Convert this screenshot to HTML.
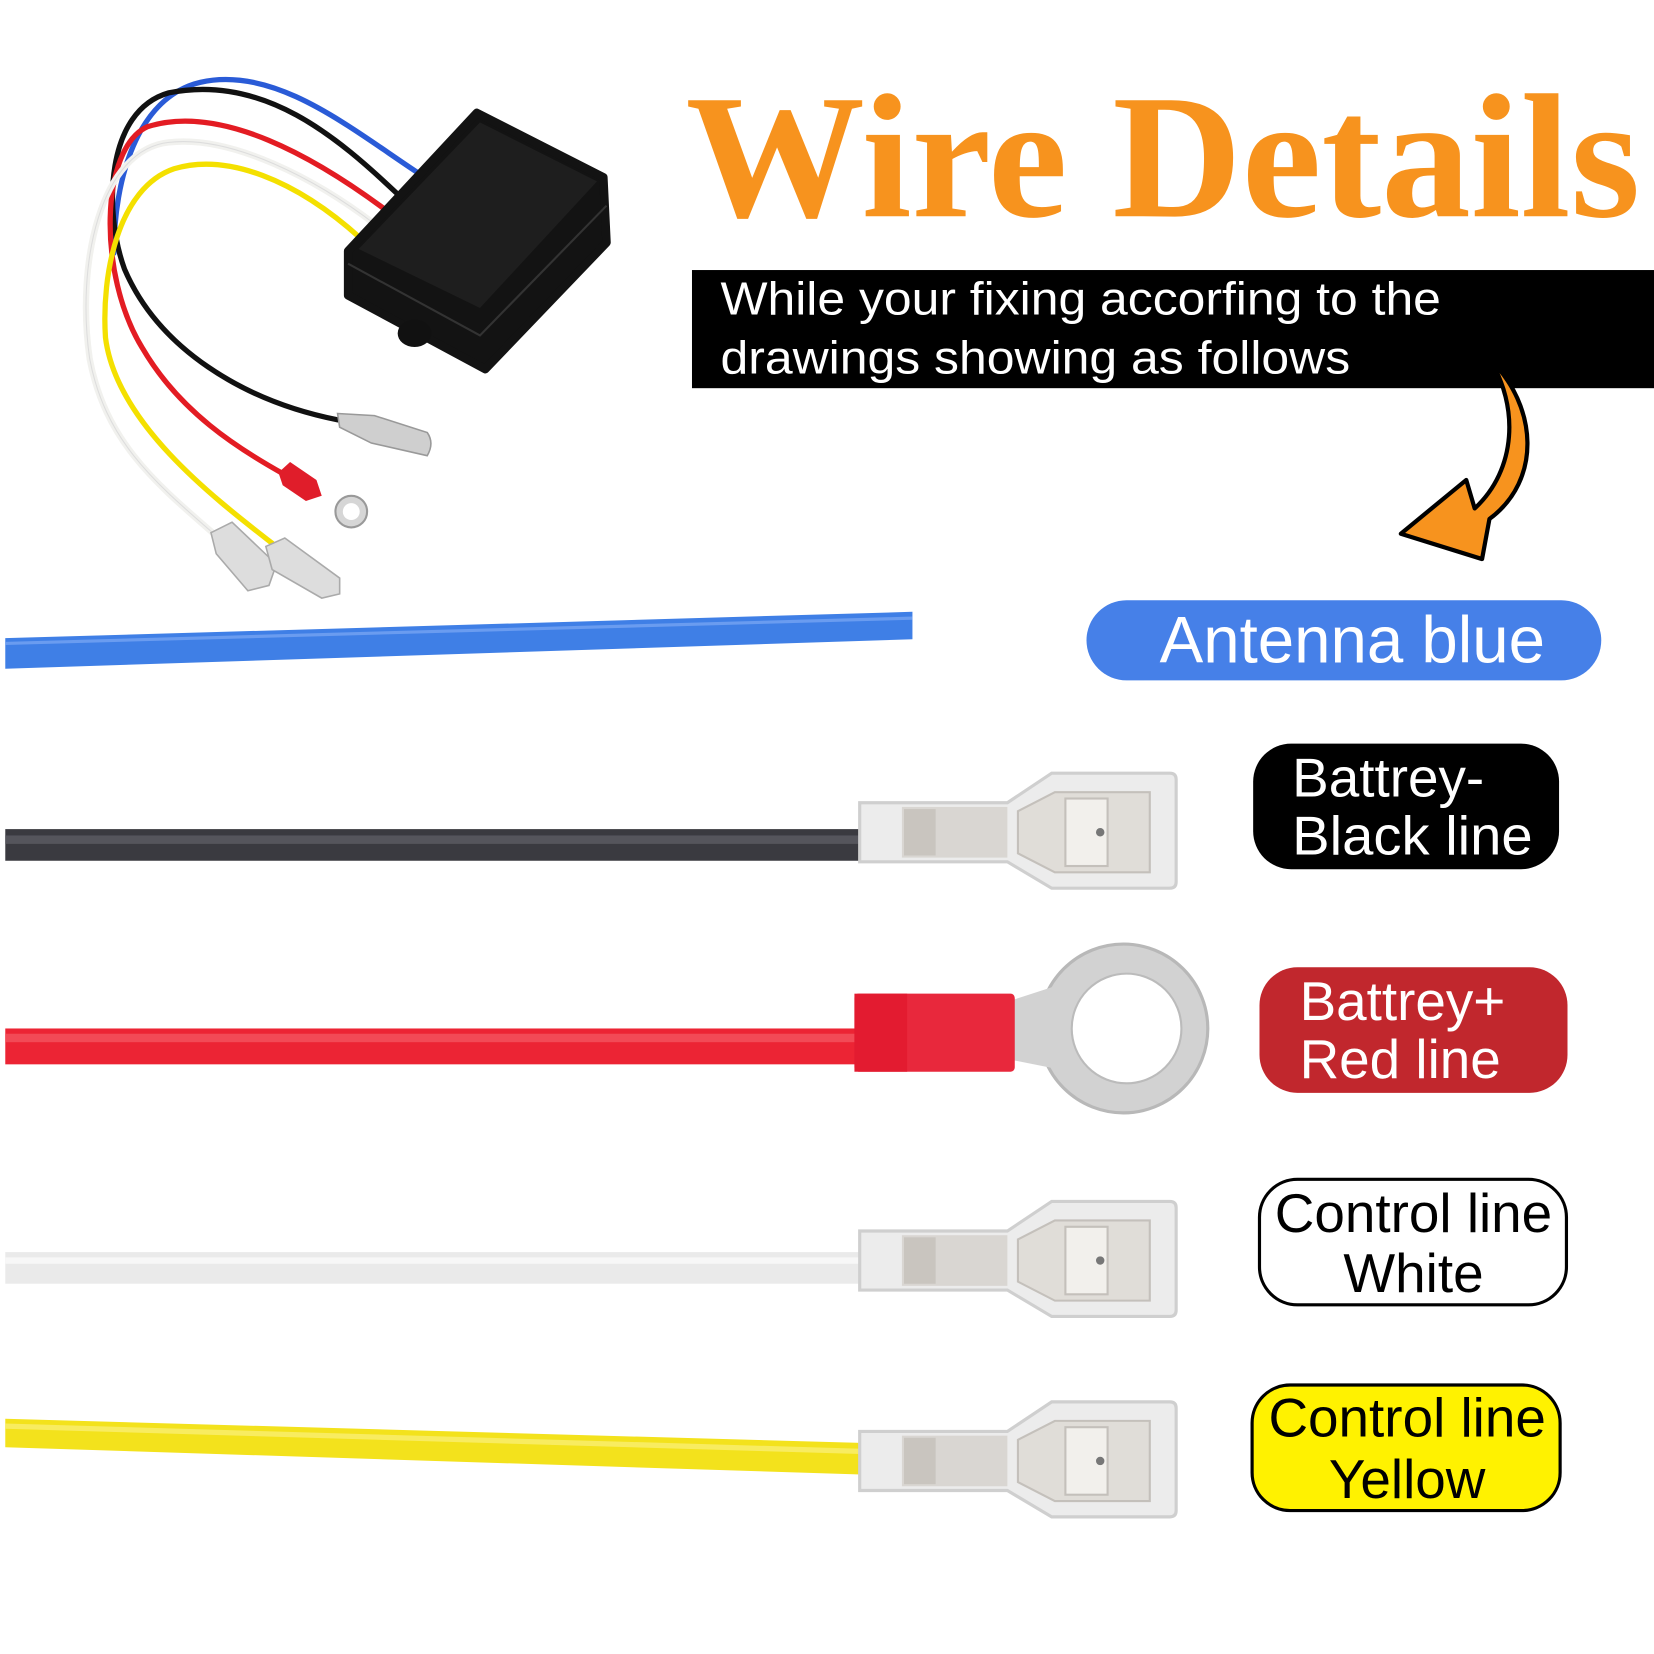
<!DOCTYPE html>
<html><head><meta charset="utf-8"><style>html,body{margin:0;padding:0;background:#fff}svg{display:block}</style></head>
<body>
<svg width="1654" height="1654" viewBox="0 0 1568 1568" xmlns="http://www.w3.org/2000/svg">
<defs>
<g id="spade">
  <path d="M0,-28 L140,-28 L182,-56 L294,-56 Q300,-56 300,-50 L300,47 Q300,53 294,53 L182,53 L140,28 L0,28 Z" fill="#ececec" stroke="#cfcfcf" stroke-width="3"/>
  <rect x="40" y="-24" width="100" height="48" fill="#d9d6d2"/>
  <rect x="42" y="-22" width="30" height="44" fill="#c9c5bf"/>
  <path d="M150,-20 L185,-38 L275,-38 L275,38 L185,38 L150,20 Z" fill="#e0ddd8" stroke="#c4c0bb" stroke-width="2"/>
  <rect x="195" y="-32" width="40" height="64" fill="#f2f0ec" stroke="#c4c0bb" stroke-width="2"/>
  <circle cx="228" cy="0" r="4" fill="#777"/>
</g>
</defs>

<g fill="none" stroke-linecap="round" stroke-width="5">
  <path d="M395,163 C330,120 260,62 190,78 C130,92 108,170 108,240" stroke="#2a5bd7"/>
  <path d="M378,185 C320,130 250,70 160,88 C100,105 98,200 118,255 C150,330 230,380 320,398" stroke="#111"/>
  <path d="M367,200 C300,150 210,98 140,120 C95,140 92,260 135,330 C170,390 225,425 270,450" stroke="#e31c23"/>
  <path d="M356,213 C300,170 220,128 160,135 C95,142 72,250 85,340 C100,420 150,460 205,508" stroke="#f1f1ee" stroke-width="6"/>
  <path d="M356,213 C300,170 220,128 160,135 C95,142 72,250 85,340 C100,420 150,460 205,508" stroke="#ddd" stroke-width="1"/>
  <path d="M342,226 C280,170 215,145 165,160 C112,178 96,260 100,320 C110,400 200,470 258,515" stroke="#f4e000"/>
</g>
<path d="M320,392 L355,394 L405,410 Q412,420 405,432 L352,420 L322,405 Z" fill="#cfcfcf" stroke="#999" stroke-width="1.5"/>
<path d="M264,448 L275,438 L300,455 L305,470 L290,475 L268,460 Z" fill="#e01d2a"/>
<circle cx="333" cy="485" r="15" fill="#d6d6d6" stroke="#999" stroke-width="2"/>
<circle cx="333" cy="485" r="8" fill="#fff"/>
<path d="M200,505 L220,495 L262,535 L255,555 L235,560 L205,525 Z" fill="#ddd" stroke="#aaa" stroke-width="1.5"/>
<path d="M252,518 L270,510 L322,548 L322,563 L305,567 L258,540 Z" fill="#ddd" stroke="#aaa" stroke-width="1.5"/>
<path d="M330,238 L452,107 L572,168 L575,230 L460,350 L330,280 Z" fill="#131313" stroke="#131313" stroke-width="8" stroke-linejoin="round"/>
<path d="M340,236 L455,116 L566,172 L455,292 Z" fill="#1e1e1e"/>
<path d="M330,250 L455,318 L575,195" fill="none" stroke="#333" stroke-width="2"/>
<ellipse cx="393" cy="316" rx="16" ry="13" fill="#111"/>

<text x="650" y="205" font-family="Liberation Serif, serif" font-weight="bold" font-size="168" fill="#F7931E" textLength="905" lengthAdjust="spacingAndGlyphs">Wire  Details</text>

<rect x="656" y="256" width="912" height="112" fill="#000"/>
<text x="683" y="298" font-family="Liberation Sans, sans-serif" font-size="44" fill="#fff" textLength="683" lengthAdjust="spacingAndGlyphs">While your fixing accorfing to the</text>
<text x="683" y="354" font-family="Liberation Sans, sans-serif" font-size="44" fill="#fff" textLength="597" lengthAdjust="spacingAndGlyphs">drawings showing as follows</text>

<path d="M1412,340 C1458,385 1462,455 1412,492 L1405,530 L1328,506 L1390,455 L1398,482 C1438,445 1440,385 1412,340 Z" fill="#F7931E" stroke="#000" stroke-width="4" stroke-linejoin="round"/>

<rect x="1030" y="569" width="488" height="76" rx="38" fill="#4680E8"/>
<text x="1282" y="628" text-anchor="middle" font-family="Liberation Sans, sans-serif" font-size="62" fill="#fff">Antenna blue</text>

<rect x="1188" y="705" width="290" height="119" rx="36" fill="#000"/>
<text x="1225" y="755" font-family="Liberation Sans, sans-serif" font-size="52" fill="#fff">Battrey-</text>
<text x="1225" y="810" font-family="Liberation Sans, sans-serif" font-size="52" fill="#fff" textLength="228" lengthAdjust="spacingAndGlyphs">Black line</text>

<rect x="1194" y="917" width="292" height="119" rx="36" fill="#C1272D"/>
<text x="1232" y="967" font-family="Liberation Sans, sans-serif" font-size="52" fill="#fff">Battrey+</text>
<text x="1232" y="1022" font-family="Liberation Sans, sans-serif" font-size="52" fill="#fff">Red line</text>

<rect x="1194" y="1118" width="291" height="119" rx="36" fill="#fff" stroke="#000" stroke-width="3"/>
<text x="1340" y="1168" text-anchor="middle" font-family="Liberation Sans, sans-serif" font-size="52" fill="#000">Control line</text>
<text x="1340" y="1225" text-anchor="middle" font-family="Liberation Sans, sans-serif" font-size="52" fill="#000">White</text>

<rect x="1187" y="1313" width="292" height="119" rx="36" fill="#FFF200" stroke="#000" stroke-width="3"/>
<text x="1334" y="1362" text-anchor="middle" font-family="Liberation Sans, sans-serif" font-size="52" fill="#000">Control line</text>
<text x="1334" y="1420" text-anchor="middle" font-family="Liberation Sans, sans-serif" font-size="52" fill="#000">Yellow</text>

<path d="M5,605 L865,580 L865,606 L5,634 Z" fill="#3f7fe6"/>
<path d="M5,610 L865,586" stroke="#6a9cf0" stroke-width="3"/>
<rect x="5" y="786" width="815" height="30" fill="#3a3a40"/>
<rect x="5" y="792" width="815" height="8" fill="#55555c"/>
<use href="#spade" x="815" y="789"/>

<rect x="5" y="975" width="810" height="34" fill="#ec2434"/>
<rect x="5" y="980" width="810" height="8" fill="#f24a56"/>
<circle cx="1065" cy="975" r="80" fill="#d2d2d2" stroke="#b8b8b8" stroke-width="3"/>
<path d="M960,948 L1000,935 L1010,1015 L960,1005 Z" fill="#d2d2d2"/>
<circle cx="1068" cy="975" r="52" fill="#fff" stroke="#bbb" stroke-width="2"/>
<rect x="810" y="942" width="152" height="74" rx="4" fill="#e8283c"/>
<rect x="810" y="942" width="50" height="74" fill="#e31b30"/>

<rect x="5" y="1187" width="815" height="30" fill="#eaeaea"/>
<rect x="5" y="1192" width="815" height="6" fill="#f7f7f7"/>
<use href="#spade" x="815" y="1195"/>

<path d="M5,1345 L820,1368 L820,1398 L5,1372 Z" fill="#f3e21c"/>
<path d="M5,1352 L820,1376" stroke="#f8ec60" stroke-width="5"/>
<use href="#spade" x="815" y="1385"/>
</svg>
</body></html>
